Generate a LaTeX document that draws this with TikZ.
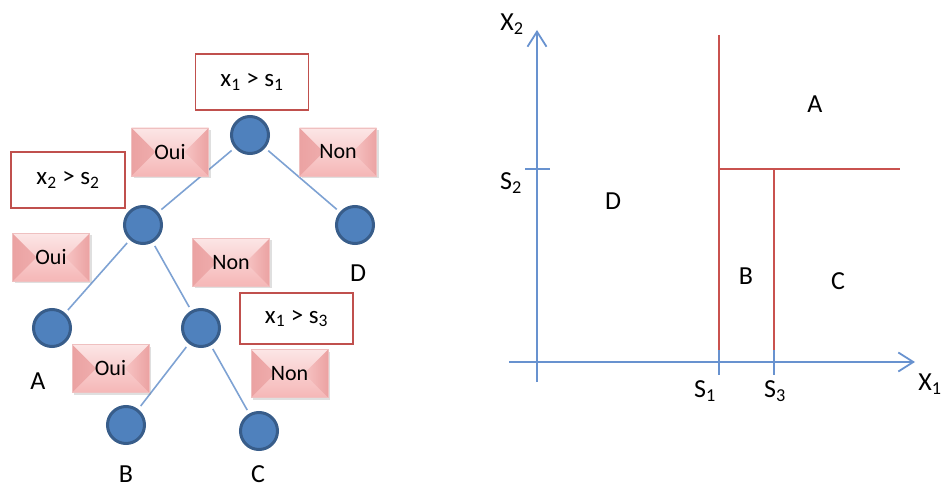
\documentclass[tikz,border=0pt]{standalone}
\usepackage{fontspec}
\setmainfont{Carlito}
\usepackage{tikz}
\usetikzlibrary{arrows.meta,positioning,shadows}
\definecolor{TreeBlue}{HTML}{4F81BD}
\definecolor{TreeBlueEdge}{HTML}{385D8A}
\definecolor{BranchBlue}{HTML}{7EA2D3}
\definecolor{AxisBlue}{HTML}{6892CF}
\definecolor{SplitRed}{HTML}{C9524F}
\definecolor{TestRed}{HTML}{C0504D}
\definecolor{ChoiceLight}{HTML}{FCE6E6}
\definecolor{ChoicePink}{HTML}{F5B6B6}
\definecolor{ChoiceDark}{HTML}{EBA2A2}
\definecolor{ChoiceEdge}{HTML}{EFC0C0}
\tikzset{
  test/.style={draw=TestRed,line width=1.5pt,fill=white,minimum width=113pt,
    minimum height=55pt,inner sep=0pt,font=\fontsize{25}{30}\selectfont},
  choice/.style={draw=ChoiceEdge,line width=0.6pt,minimum width=77pt,minimum height=48pt,
    inner sep=0pt,top color=ChoiceLight,bottom color=ChoicePink,
    drop shadow={shadow xshift=2pt,shadow yshift=-2pt,opacity=0.25},
    font=\fontsize{22}{26}\selectfont,
    path picture={
      \shade[left color=ChoiceDark,right color=ChoicePink!70!ChoiceLight]
        (path picture bounding box.north west) -- ([xshift=24pt]path picture bounding box.west)
        -- (path picture bounding box.south west) -- cycle;
      \shade[left color=ChoicePink!70!ChoiceLight,right color=ChoiceDark]
        (path picture bounding box.north east) -- ([xshift=-24pt]path picture bounding box.east)
        -- (path picture bounding box.south east) -- cycle;
    }},
  treenode/.style={circle,fill=TreeBlue,draw=TreeBlueEdge,line width=3pt,minimum size=37pt,inner sep=0pt},
  branch/.style={draw=BranchBlue,line width=1.6pt,shorten <=4pt,shorten >=4pt},
  leaflabel/.style={font=\fontsize{26}{30}\selectfont,inner sep=0pt},
  axis/.style={draw=AxisBlue,line width=1.8pt,-{Straight Barb[length=15pt,width=19pt]}},
  tick/.style={draw=AxisBlue,line width=1.8pt},
  split/.style={draw=SplitRed,line width=1.4pt}
}
\begin{document}
\begin{tikzpicture}[x=1pt,y=-1pt]
  \useasboundingbox (0,0) rectangle (943,489);

  % decision tree
  \node[treenode] (root) at (250,135) {};
  \node[treenode] (left) at (143,225) {};
  \node[treenode] (leafD) at (355,225) {};
  \node[treenode] (leafA) at (52,328) {};
  \node[treenode] (mid) at (201,328) {};
  \node[treenode] (leafB) at (126,425) {};
  \node[treenode] (leafC) at (259,431) {};
  \draw[branch] (root)--(left);
  \draw[branch] (root)--(leafD);
  \draw[branch] (left)--(leafA);
  \draw[branch] (left)--(mid);
  \draw[branch] (mid)--(leafB);
  \draw[branch] (mid)--(leafC);

  \node[test,minimum height=56pt] (testA) at (252,82) {x\textsubscript{1} > s\textsubscript{1}};
  \node[test,minimum width=114pt,minimum height=56pt] (testB) at (68,180) {x\textsubscript{2} > s\textsubscript{2}};
  \node[test,minimum height=51pt] (testC) at (296.5,318.5) {x\textsubscript{1} > s\textsubscript{3}};

  \node[choice] (ouiA) at (170,152) {Oui};
  \node[choice] (nonA) at (338,152) {Non};
  \node[choice] (ouiB) at (51,257.5) {Oui};
  \node[choice] (nonB) at (231,262.5) {Non};
  \node[choice] (ouiC) at (110.5,368.5) {Oui};
  \node[choice] (nonC) at (289.5,373.5) {Non};

  \node[leaflabel] (lblA) at (38,381) {A};
  \node[leaflabel] (lblB) at (126,474) {B};
  \node[leaflabel] (lblC) at (258,474) {C};
  \node[leaflabel] (lblD) at (358,273) {D};

  % feature space
  \coordinate (xstart) at (509,362);
  \coordinate (xend) at (915,362);
  \coordinate (ystart) at (537,382);
  \coordinate (yend) at (537,30);
  \draw[axis] (xstart)--(xend);
  \draw[axis] (ystart)--(yend);
  \draw[tick] (525,169)--(550,169);

  \coordinate (s1top) at (719,35);
  \coordinate (s1low) at (719,350);
  \coordinate (s1tick) at (719,375);
  \coordinate (s2end) at (900,169);
  \coordinate (s3top) at (774,169);
  \coordinate (s3low) at (774,350);
  \coordinate (s3tick) at (774,375);
  \draw[split] (s1top)--(s1low);
  \draw[split] (s1top|-s2end)--(s2end);
  \draw[split] (s3top)--(s3low);
  \draw[tick] (s1low)--(s1tick);
  \draw[tick] (s3low)--(s3tick);

  \node[leaflabel] (axX2) at (512,24) {X\textsubscript{2}};
  \node[leaflabel] (axX1) at (930,384) {X\textsubscript{1}};
  \node[leaflabel] (axS2) at (511,183) {S\textsubscript{2}};
  \node[leaflabel] (axS1) at (705,391) {S\textsubscript{1}};
  \node[leaflabel] (axS3) at (775,391) {S\textsubscript{3}};

  \node[leaflabel] (zoneA) at (815,104) {A};
  \node[leaflabel] (zoneD) at (613,201) {D};
  \node[leaflabel] (zoneB) at (746,276) {B};
  \node[leaflabel] (zoneC) at (838,281) {C};
\end{tikzpicture}
\end{document}
